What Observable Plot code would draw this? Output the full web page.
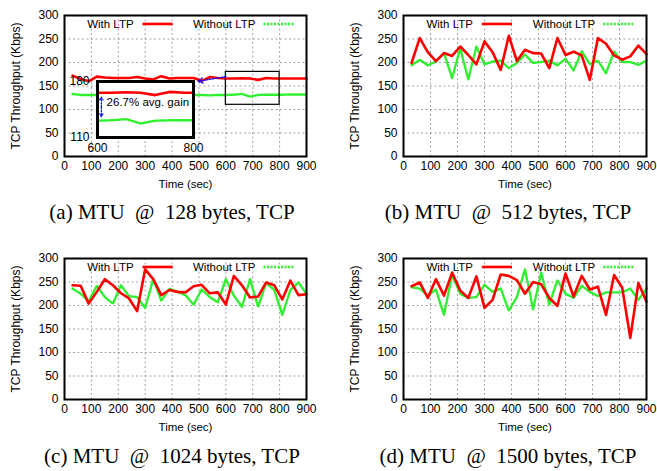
<!DOCTYPE html>
<html><head><meta charset="utf-8">
<script src="https://cdn.jsdelivr.net/npm/d3@7"></script>
<script src="https://cdn.jsdelivr.net/npm/@observablehq/plot@0.6"></script>
<style>
html,body{margin:0;padding:0;background:#fff;}
#root{position:relative;width:657px;height:471px;overflow:hidden;background:#fff;}
.panel{position:absolute;}
.panel svg{overflow:visible;}
.cap{position:absolute;font-family:"Liberation Serif","Times New Roman",serif;font-size:21px;line-height:24px;white-space:pre;text-align:center;width:340px;color:#000;}
</style></head><body><div id="root"></div>
<script>
// ---------- data ----------
const times = [30,60,90,120,150,180,210,240,270,300,330,360,390,420,450,480,510,540,570,600,630,660,690,720,750,780,810,840,870,900];

const aWith    = [172,165,160,170,168,167,167,167,169,166,164,171,166,167,167,167,161,169,167,166,166,166.5,166,163,167,166,166,166,166,166];
const aWithout = [133,131,131,131,131,131,131,131,131,131,131,131,131,131,131,131,131,130,131,131,131.5,133,127.5,131,131.5,131.5,131.5,132,132,132];

const bWith    = [199,252,222,203,220,214,234,216,196,245,222,184,257,203,227,220,219,188,252,216,223,215,163,252,240,215,206,213,236,218];
const bWithout = [194,206,194,202,220,167,230,164,234,196,202,204,188,199,217,199,201,204,194,208,183,224,197,204,177,224,201,201,195,204];

const cWith    = [243,242,204,229,256,243,226,215,188,277,256,222,233,229,228,241,244,226,228,202,263,243,217,219,249,243,213,253,222,224];
const cWithout = [236,225,209,242,218,204,243,220,218,195,256,210,236,229,222,202,234,218,207,256,221,197,256,197,248,233,180,233,249,225];

const dWith    = [241,249,216,256,221,270,232,216,262,195,212,266,263,254,225,250,245,216,199,268,219,263,234,240,180,265,238,131,248,208];
const dWithout = [239,236,221,234,180,265,225,216,218,244,229,236,189,218,277,192,270,202,254,225,216,242,229,220,228,228,228,236,212,236];

const xTicks = [0,100,200,300,400,500,600,700,800,900];
const yTicks = [0,50,100,150,200,250,300];
const insetXTicks = [600,800];
const insetYTicks = [110,180];
const seriesNames = ["With LTP","Without LTP"];
const insetNote = "26.7% avg. gain";
const xLabel = "Time (sec)";
const yLabel = "TCP Throughput (Kbps)";
const captions = ["(a) MTU  @  128 bytes, TCP","(b) MTU  @  512 bytes, TCP","(c) MTU  @  1024 bytes, TCP","(d) MTU  @  1500 bytes, TCP"];

// ---------- style ----------
const FONT = '"Liberation Sans", Arial, Helvetica, sans-serif';
const RED = "#ff0000";
const GREEN = "#2ef02e";
const BLUE = "#0000ff";
const redStyle = {stroke: RED, strokeWidth: 2.6};
const greenStyle = {stroke: GREEN, strokeWidth: 2.4, strokeDasharray: "2,1.5"};
const gridStyle = {stroke: "#8a8a8a", strokeOpacity: 1, strokeWidth: 0.8, strokeDasharray: "2,2.5"};

function rowsOf(w, wo) { return times.map((t, i) => ({t, w: w[i], wo: wo[i]})); }

function legendMarks() {
  return [
    Plot.text([seriesNames[0]], {x: 257, y: 282, text: d => d, textAnchor: "end", fontSize: 11.5}),
    Plot.link([0], {x1: 290, x2: 402, y1: 282, y2: 282, ...redStyle}),
    Plot.text([seriesNames[1]], {x: 710, y: 282, text: d => d, textAnchor: "end", fontSize: 11.5}),
    Plot.link([0], {x1: 740, x2: 853, y1: 282, y2: 282, ...greenStyle})
  ];
}

function panel(w, wo, width, ml, mr, extra = []) {
  const rows = rowsOf(w, wo);
  return Plot.plot({
    width, height: 200, marginLeft: ml, marginRight: mr, marginTop: 15, marginBottom: 44,
    style: {fontFamily: FONT, fontSize: "11.5px", background: "transparent", color: "#000", overflow: "visible"},
    x: {domain: [0, 900]},
    y: {domain: [0, 300]},
    marks: [
      Plot.gridX(xTicks, gridStyle),
      Plot.gridY(yTicks, gridStyle),
      Plot.axisX(xTicks, {tickSize: 0, tickPadding: 5, label: null, fontSize: 12}),
      Plot.axisY(yTicks, {tickSize: 0, tickPadding: 6, fontSize: 12,
        label: yLabel, labelAnchor: "center", labelArrow: "none", labelOffset: 53}),
      Plot.line(rows, {x: "t", y: "wo", ...greenStyle}),
      Plot.line(rows, {x: "t", y: "w", ...redStyle}),
      ...extra,
      ...legendMarks(),
      Plot.frame({stroke: "#000", strokeWidth: 2}),
      Plot.text([xLabel], {text: d => d, frameAnchor: "bottom", dy: 28, lineAnchor: "middle", fontSize: 11.5})
    ]
  });
}

const root = document.getElementById("root");
function place(node, left, top) {
  const d = document.createElement("div");
  d.className = "panel";
  d.style.left = left + "px";
  d.style.top = top + "px";
  d.appendChild(node);
  root.appendChild(d);
}

// panel (a) extras: zoom box and blue pointer arrow
const aExtra = [
  Plot.rect([0], {x1: insetXTicks[0], x2: insetXTicks[1], y1: insetYTicks[0], y2: insetYTicks[1], fill: "none", stroke: "#000", strokeWidth: 1.2}),
  Plot.arrow([0], {x1: 600, y1: 170, x2: 497, y2: 160, stroke: BLUE, strokeWidth: 1.3, strokeDasharray: "1.5,1.5", headLength: 6})
];

place(panel(aWith, aWithout, 330, 64, 24, aExtra), 0, 0);
place(panel(bWith, bWithout, 327, 73, 11), 330, 0);
place(panel(cWith, cWithout, 330, 64, 24), 0, 243);
place(panel(dWith, dWithout, 327, 73, 11), 330, 243);

// inset of panel (a)
const insetRows = rowsOf(aWith, aWithout).filter(r => r.t >= 570 && r.t <= 810);
const arrowEnds = [160.5, 136];
const inset = Plot.plot({
  width: 140, height: 82, marginLeft: 37, marginRight: 7, marginTop: 7, marginBottom: 19,
  style: {fontFamily: FONT, fontSize: "11.5px", background: "transparent", color: "#000", overflow: "visible"},
  x: {domain: [600, 800]},
  y: {domain: [110, 180]},
  marks: [
    Plot.frame({fill: "#fff", stroke: "none"}),
    Plot.line(insetRows, {x: "t", y: "wo", clip: true, ...greenStyle}),
    Plot.line(insetRows, {x: "t", y: "w", clip: true, ...redStyle}),
    Plot.axisX(insetXTicks, {tickSize: 0, tickPadding: 6, label: null, fontSize: 12}),
    Plot.axisY(insetYTicks, {tickSize: 0, tickPadding: 8, label: null, fontSize: 12}),
    Plot.arrow(arrowEnds, {x1: 608, y1: 148, x2: 608, y2: d => d, stroke: BLUE, strokeWidth: 1.2, strokeDasharray: "1.5,1.5", headLength: 4}),
    Plot.text([insetNote], {text: d => d, x: 619, y: 154.5, textAnchor: "start", fontSize: 11.5}),
    Plot.frame({stroke: "#000", strokeWidth: 3})
  ]
});
place(inset, 60, 74);

// captions (centre x, centre y)
const capPos = [[172, 212], [508, 212], [172, 456], [508, 456]];
captions.forEach((c, i) => {
  const d = document.createElement("div");
  d.className = "cap";
  d.style.left = (capPos[i][0] - 170) + "px";
  d.style.top = (capPos[i][1] - 12) + "px";
  d.textContent = c;
  root.appendChild(d);
});
</script>
</body></html>
